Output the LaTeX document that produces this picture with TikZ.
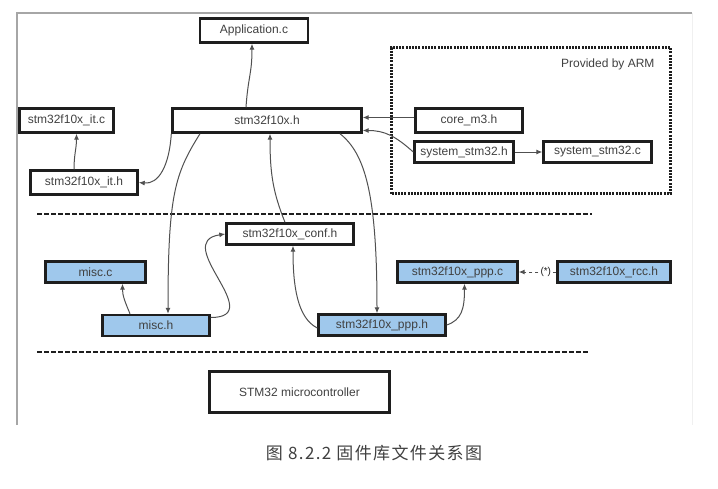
\documentclass[tikz,border=0pt]{standalone}
\usepackage{fontspec}
\setmainfont{Liberation Sans}
\newfontfamily\cjk[LetterSpace=8]{Noto Sans CJK SC}
\usetikzlibrary{arrows.meta,positioning}
\definecolor{filebg}{HTML}{9FC8EC}
\definecolor{ink}{HTML}{1E1E1E}
\definecolor{wire}{HTML}{505050}

\begin{document}
\begin{tikzpicture}[x=1pt,y=-1pt,
    file/.style={draw=ink,line width=2.4pt,inner sep=0pt,minimum height=24pt,font=\fontsize{12}{14}\selectfont,text=ink!85},
    lib/.style={file,fill=filebg,minimum height=21pt},
    con/.style={draw=wire,line width=1pt,-{Latex[length=6pt,width=5pt]}}]
        \useasboundingbox(0,0)rectangle(718,488);
        \draw[gray!70,line width=1.2pt](17,425)--(17,13)--(692,13);
        \draw[gray!12](692,13)--(692,425);
        \foreach \y/\e in {214/592,352/588}
        \draw[ink,line width=2.4pt,dash pattern=on 5pt off 2pt](37,\y)--(\e,\y);
        % core layer
        \node[file,minimum width=108pt](app)at(254,30.5){Application.c};
        \node[file,minimum width=94pt](itc)at(66.5,120.5){stm32f10x\_it.c};
        \node[file,minimum width=189pt](main)at(267,120.5){stm32f10x.h};
        \node[file,minimum width=107pt](ith)at(84,182.5){stm32f10x\_it.h};
        \node[draw=ink,line width=2.2pt,dash pattern=on 2pt off 1.2pt,minimum width=279pt,minimum height=146pt](arm)at(531,120.5){};
        \node[anchor=east,font=\fontsize{12}{14}\selectfont,text=ink!85](armtxt)at(658,64){Provided by ARM};
        \node[file,minimum width=107pt](core)at(469,120.5){core\_m3.h};
        \node[file,minimum width=99pt,minimum height=21pt](sysh)at(464,152){system\_stm32.h};
        \node[file,minimum width=108pt,minimum height=21pt](sysc)at(597.5,152){system\_stm32.c};
        % driver layer
        \node[file,minimum width=127pt,minimum height=21pt](conf)at(290,234){stm32f10x\_conf.h};
        \node[lib,minimum width=100pt](miscc)at(95.5,272){misc.c};
        \node[lib,minimum width=107pt](misch)at(156,325.5){misc.h};
        \node[lib,minimum width=127pt](ppph)at(382,325){stm32f10x\_ppp.h};
        \node[lib,minimum width=120pt](pppc)at(457.5,272){stm32f10x\_ppp.c};
        \node[lib,minimum width=113pt](rcc)at(614,272){stm32f10x\_rcc.h};
        \node[file,minimum width=180pt,minimum height=41pt](mcu)at(299.5,392){STM32 microcontroller};
        \node[font=\cjk\fontsize{17}{19}\selectfont,text=ink!85](cap)at(374,453){图 8.2.2 固件库文件关系图};
        % includes
        \draw[con]([xshift=-21pt]main.north)..controls+(2,-30)and+(0,30)..([xshift=-2pt]app.south);
        \draw[con](main.south west)..controls+(-2,32)and+(20,2)..(ith.east);
        \draw[con]([xshift=-10pt]ith.north)..controls+(0,-15)and+(0,15)..([xshift=10pt]itc.south);
        \draw[con]([yshift=3pt]core.west)--([yshift=3pt]main.east);
        \draw[con](sysh.west)..controls+(-18,-16)and+(22,0)..([yshift=-10pt]main.east);
        \draw[con](sysh.east)--(sysc.west);
        \draw[con]([xshift=-67pt]main.south)..controls+(-25,40)and+(0,-120)..([xshift=12pt]misch.north);
        \draw[con]([xshift=-5pt]conf.north)..controls+(-12,-30)and+(0,40)..([xshift=3pt]main.south);
        \draw[con]([xshift=73pt]main.south)..controls+(25,20)and+(0,-120)..([xshift=-5pt]ppph.north);
        \draw[con]([yshift=8pt]misch.east)..controls+(58,0)and+(-55,8)..(conf.west);
        \draw[con]([xshift=-26pt]misch.north)..controls+(-5,-12)and+(0,12)..([xshift=27pt]miscc.south);
        \draw[con]([yshift=-3pt]ppph.west)..controls+(-20,-10)and+(0,40)..([xshift=3pt]conf.south);
        \draw[con](ppph.east)..controls+(15,-5)and+(0,25)..([xshift=7pt]pppc.south);
        \draw[con,dashed](rcc.west)--node[pos=0.28,fill=white,inner sep=0.5pt,font=\fontsize{10}{12}\selectfont,text=ink]{(*)}(pppc.east);
    \end{tikzpicture}
\end{document}
